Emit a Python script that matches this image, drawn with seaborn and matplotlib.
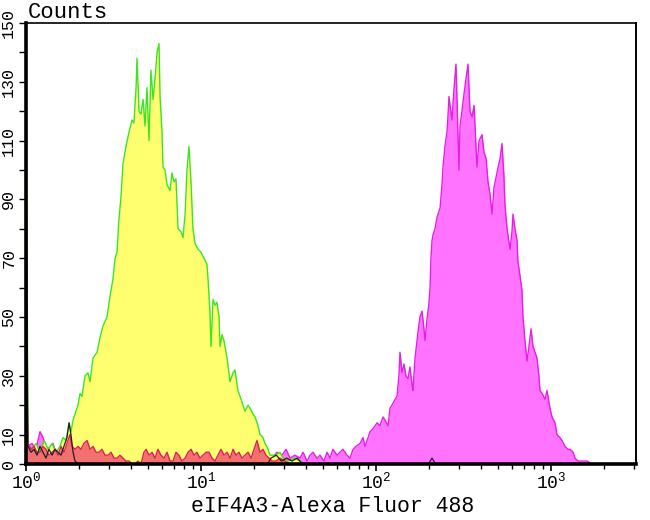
import numpy as np
import pandas as pd
import matplotlib
matplotlib.use("Agg")
import matplotlib.pyplot as plt
from matplotlib.ticker import FixedLocator, FixedFormatter, LogLocator, NullFormatter, LogFormatterSciNotation
import seaborn as sns

# ---------------- data (log10 fluorescence, counts) ----------------
green_log = [0.000, 0.011, 0.034, 0.057, 0.080, 0.103, 0.126, 0.149, 0.171, 0.194, 0.211, 0.229, 0.246,
             0.257, 0.269, 0.280, 0.297, 0.309, 0.320, 0.337, 0.354, 0.366, 0.383, 0.406, 0.423, 0.440,
             0.463, 0.480, 0.497, 0.509, 0.520, 0.531, 0.543, 0.554, 0.571, 0.589, 0.606, 0.617, 0.629,
             0.634, 0.646, 0.657, 0.669, 0.680, 0.691, 0.703, 0.714, 0.726, 0.737, 0.749, 0.760, 0.766,
             0.777, 0.783, 0.794, 0.806, 0.823, 0.834, 0.846, 0.857, 0.869, 0.886, 0.897, 0.909, 0.920,
             0.931, 0.943, 0.954, 0.966, 0.983, 1.000, 1.017, 1.034, 1.040, 1.051, 1.057, 1.069, 1.080,
             1.091, 1.103, 1.109, 1.120, 1.131, 1.149, 1.166, 1.183, 1.194, 1.211, 1.229, 1.251, 1.269,
             1.280, 1.297, 1.309, 1.326, 1.337, 1.354, 1.366, 1.383, 1.394, 1.423, 1.451, 1.469, 1.497,
             1.537, 1.566, 1.594]
green_counts = [160, 6, 5, 7, 4, 8, 5, 7, 4, 6, 9, 8, 14,
                11, 15, 17, 20, 24, 23, 30, 31, 28, 36, 38, 43, 47,
                50, 57, 63, 70, 72, 83, 91, 102, 108, 113, 117, 116, 128,
                138, 120, 119, 124, 115, 128, 110, 134, 124, 131, 140, 143, 125,
                113, 101, 100, 95, 93, 99, 96, 97, 80, 79, 77, 85, 100,
                108, 96, 80, 75, 73, 72, 70, 68, 63, 52, 40, 56, 54,
                55, 50, 40, 44, 42, 36, 28, 31, 32, 25, 22, 18, 20,
                19, 17, 16, 13, 10, 9, 7, 5, 3, 3, 4, 2, 1,
                2, 1, 0]

magenta_log = [0.011, 0.034, 0.057, 0.080, 0.097, 0.114, 0.137, 0.154, 0.171, 0.194, 0.223, 0.423, 0.709,
               0.994, 1.280, 1.406, 1.434, 1.463, 1.486, 1.509, 1.537, 1.566, 1.583, 1.606, 1.623, 1.640,
               1.663, 1.680, 1.703, 1.720, 1.737, 1.754, 1.777, 1.794, 1.811, 1.834, 1.851, 1.869, 1.886,
               1.909, 1.926, 1.937, 1.949, 1.966, 1.983, 2.006, 2.023, 2.040, 2.051, 2.069, 2.080, 2.091,
               2.109, 2.120, 2.131, 2.137, 2.149, 2.160, 2.171, 2.183, 2.194, 2.206, 2.211, 2.223, 2.234,
               2.240, 2.251, 2.263, 2.274, 2.280, 2.291, 2.303, 2.309, 2.314, 2.320, 2.326, 2.337, 2.349,
               2.366, 2.377, 2.383, 2.394, 2.406, 2.411, 2.417, 2.423, 2.434, 2.446, 2.457, 2.463, 2.474,
               2.480, 2.491, 2.503, 2.514, 2.526, 2.537, 2.549, 2.560, 2.566, 2.577, 2.589, 2.606, 2.617,
               2.629, 2.640, 2.651, 2.663, 2.674, 2.691, 2.709, 2.720, 2.731, 2.737, 2.749, 2.766, 2.777,
               2.783, 2.794, 2.806, 2.811, 2.823, 2.834, 2.840, 2.851, 2.863, 2.874, 2.886, 2.897, 2.909,
               2.920, 2.931, 2.937, 2.949, 2.966, 2.977, 2.983, 2.994, 3.006, 3.023, 3.034, 3.051, 3.063,
               3.080, 3.097, 3.109, 3.126, 3.137, 3.154, 3.177, 3.206, 3.234]
magenta_counts = [6, 7, 5, 11, 9, 6, 5, 7, 4, 5, 3, 3, 3,
                  3, 3, 2, 4, 3, 5, 2, 3, 2, 4, 1, 3, 4,
                  2, 3, 1, 4, 2, 5, 3, 4, 5, 3, 2, 5, 6,
                  7, 9, 6, 8, 11, 12, 14, 13, 16, 15, 13, 19, 20,
                  22, 23, 30, 38, 31, 34, 30, 29, 33, 27, 25, 36, 42,
                  45, 50, 52, 46, 42, 49, 55, 60, 70, 76, 78, 80, 84,
                  87, 95, 101, 108, 113, 118, 125, 122, 117, 128, 136, 124, 100,
                  115, 120, 126, 131, 136, 120, 118, 122, 115, 101, 110, 112, 106,
                  104, 96, 92, 85, 94, 99, 104, 109, 98, 88, 80, 73, 79,
                  85, 80, 76, 69, 64, 59, 50, 42, 35, 40, 46, 40, 38,
                  36, 30, 25, 24, 22, 25, 23, 19, 16, 14, 10, 9, 8,
                  6, 5, 5, 4, 2, 1, 1, 1, 0]

red_log = [0.000, 0.011, 0.029, 0.046, 0.063, 0.080, 0.097, 0.114, 0.131, 0.149, 0.166, 0.183, 0.200,
           0.217, 0.234, 0.251, 0.263, 0.280, 0.297, 0.314, 0.331, 0.349, 0.366, 0.383, 0.400, 0.417,
           0.434, 0.451, 0.469, 0.486, 0.503, 0.520, 0.537, 0.554, 0.571, 0.589, 0.606, 0.623, 0.640,
           0.657, 0.674, 0.686, 0.703, 0.720, 0.737, 0.754, 0.771, 0.789, 0.806, 0.823, 0.840, 0.857,
           0.874, 0.891, 0.909, 0.926, 0.943, 0.960, 0.977, 0.994, 1.011, 1.029, 1.046, 1.063, 1.080,
           1.097, 1.114, 1.131, 1.149, 1.166, 1.183, 1.200, 1.217, 1.234, 1.251, 1.269, 1.286, 1.303,
           1.320, 1.337, 1.354, 1.371, 1.389, 1.406, 1.429, 1.451, 1.480, 1.509]
red_counts = [43, 7, 5, 6, 4, 4, 6, 5, 3, 4, 5, 3, 6,
              4, 7, 10, 6, 5, 6, 5, 7, 8, 5, 6, 4, 4,
              5, 3, 3, 4, 2, 2, 3, 2, 1, 1, 0, 0, 1,
              0, 4, 5, 3, 4, 2, 5, 3, 2, 4, 1, 1, 4,
              3, 1, 2, 4, 5, 3, 4, 2, 3, 4, 4, 2, 1,
              3, 5, 3, 4, 2, 5, 3, 4, 2, 3, 4, 2, 5,
              8, 4, 5, 3, 2, 1, 1, 2, 1, 0]

black_log = [0.000, 0.011, 0.029, 0.046, 0.063, 0.080, 0.097, 0.114, 0.131, 0.149, 0.166, 0.183, 0.200,
             0.217, 0.234, 0.246, 0.257, 0.269, 0.280, 0.300, 1.380, 1.400, 1.430, 1.460, 1.490, 1.520,
             1.550, 1.580, 2.300, 2.320, 2.340, 3.300]
black_counts = [113, 6, 4, 5, 3, 6, 4, 2, 5, 3, 5, 4, 3,
                6, 9, 14, 10, 4, 1, 0, 0, 2, 3, 1, 2, 1,
                2, 0, 0, 2, 0, 0]

x_tick_values = [1, 10, 100, 1000]
y_tick_values = list(range(0, 151, 10))
y_tick_labels = ["0", "10", "", "30", "", "50", "", "70", "", "90", "", "110", "", "130", "", "150"]
x_label = "eIF4A3-Alexa Fluor 488"
y_label = "Counts"

# ---------------- styling ----------------
sns.set_theme(style="white")
plt.rcParams["font.family"] = ["Liberation Mono", "DejaVu Sans Mono", "DejaVu Sans"]
plt.rcParams["mathtext.default"] = "regular"

def frame(logs, counts):
    return pd.DataFrame({"fluor": np.power(10.0, logs), "count": counts})

df_green = frame(green_log, green_counts)
df_mag = frame(magenta_log, magenta_counts)
df_red = frame(red_log, red_counts)
df_black = frame(black_log, black_counts)

fig = plt.figure(figsize=(6.5, 5.2), dpi=100)
ax = fig.add_axes([26 / 650, 1 - 464 / 520, 610 / 650, 441 / 520])
ax.set_xscale("log")

# magenta sample
ax.fill_between(df_mag["fluor"], df_mag["count"], color="#FF73FF", lw=0, zorder=1)
sns.lineplot(data=df_mag, x="fluor", y="count", ax=ax, color="#E61EE6", lw=1.0,
             estimator=None, sort=False, zorder=2)
# yellow control
ax.fill_between(df_green["fluor"], df_green["count"], color="#FFFF70", lw=0, zorder=3)
sns.lineplot(data=df_green, x="fluor", y="count", ax=ax, color="#3CE61E", lw=1.0,
             estimator=None, sort=False, zorder=4)
# red blank
ax.fill_between(df_red["fluor"], df_red["count"], color="#F27070", lw=0, zorder=5)
sns.lineplot(data=df_red, x="fluor", y="count", ax=ax, color="#E0205A", lw=1.0,
             estimator=None, sort=False, zorder=6)
# black outline
sns.lineplot(data=df_black, x="fluor", y="count", ax=ax, color="#202020", lw=0.9,
             estimator=None, sort=False, zorder=7)

ax.set_xlim(1, 10 ** 3.4857)
ax.set_ylim(0, 150)

ax.xaxis.set_major_locator(FixedLocator(x_tick_values))
ax.xaxis.set_major_formatter(LogFormatterSciNotation())
ax.xaxis.set_minor_locator(LogLocator(base=10, subs=np.arange(2, 10)))
ax.xaxis.set_minor_formatter(NullFormatter())
ax.yaxis.set_major_locator(FixedLocator(y_tick_values))
ax.yaxis.set_major_formatter(FixedFormatter(y_tick_labels))

ax.tick_params(axis="x", which="major", direction="out", length=5, width=1.2, color="black",
               labelsize=13, pad=0.5, labelcolor="black", bottom=True)
ax.tick_params(axis="x", which="minor", direction="out", length=3.5, width=1.0, color="black", bottom=True)
ax.tick_params(axis="y", which="major", direction="out", length=5, width=1.0, color="black",
               labelsize=12, pad=2, labelcolor="black", left=True)
for lab in ax.get_yticklabels():
    lab.set_rotation(90)
    lab.set_va("center")

for side, lw in [("left", 2.6), ("bottom", 2.6), ("top", 1.2), ("right", 1.4)]:
    ax.spines[side].set_visible(True)
    ax.spines[side].set_color("black")
    ax.spines[side].set_linewidth(lw)
    ax.spines[side].set_zorder(10)

ax.set_xlabel("")
ax.set_ylabel("")
fig.text(333 / 650, 1 - 507 / 520, x_label, fontsize=15.5, color="black", ha="center", va="center")
fig.text(28 / 650, 1 - 12 / 520, y_label, fontsize=16, color="black", ha="left", va="center")

fig.savefig("out.png", dpi=100)
